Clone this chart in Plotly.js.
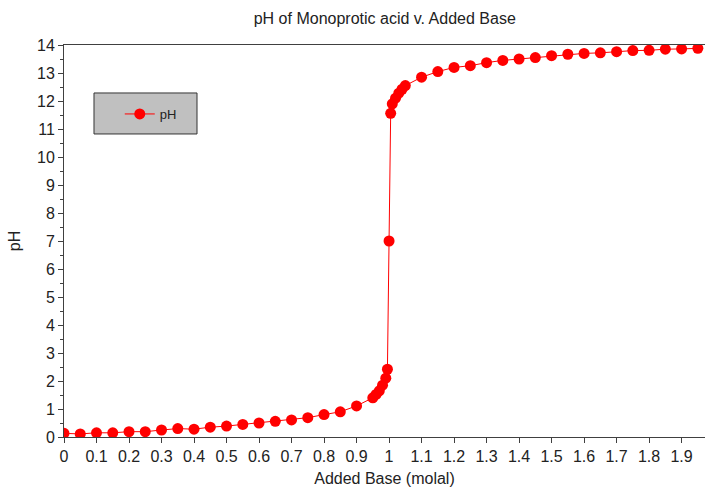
<!DOCTYPE html>
<html>
<head>
<meta charset="utf-8">
<script src="https://cdn.plot.ly/plotly-3.0.1.min.js"></script>
<style>html,body{margin:0;padding:0;background:#fff;}#chart{width:706px;height:488px;}</style>
</head>
<body>
<div id="chart"></div>
<script>
var addedBase = [0, 0.05, 0.1, 0.15, 0.2, 0.25, 0.3, 0.35, 0.4, 0.45, 0.5, 0.55, 0.6, 0.65, 0.7, 0.75, 0.8, 0.85, 0.9,
  0.95, 0.96, 0.97, 0.98, 0.99, 0.995, 1.0, 1.005, 1.01, 1.02, 1.03, 1.04, 1.05,
  1.1, 1.15, 1.2, 1.25, 1.3, 1.35, 1.4, 1.45, 1.5, 1.55, 1.6, 1.65, 1.7, 1.75, 1.8, 1.85, 1.9, 1.95];
var pHValues = [0.13, 0.11, 0.15, 0.15, 0.19, 0.19, 0.25, 0.30, 0.28, 0.35, 0.39, 0.45, 0.50, 0.56, 0.61, 0.69, 0.80, 0.90, 1.11,
  1.40, 1.52, 1.65, 1.85, 2.10, 2.42, 7.0, 11.56, 11.90, 12.10, 12.28, 12.42, 12.55,
  12.85, 13.05, 13.20, 13.26, 13.37, 13.45, 13.50, 13.55, 13.62, 13.67, 13.70, 13.72, 13.76, 13.80, 13.81, 13.85, 13.86, 13.88];
var chartTitle = 'pH of Monoprotic acid v. Added Base';
var xTitle = 'Added Base (molal)';
var yTitle = 'pH';
var seriesName = 'pH';

var FONT = '"Liberation Sans Narrow", "Liberation Sans", Arial, sans-serif';
var AX = '#404040';

var trace = {
  x: addedBase, y: pHValues, name: seriesName, type: 'scatter', mode: 'lines+markers',
  line: {color: '#ff0000', width: 1},
  marker: {color: '#ff0000', size: 11, symbol: 'circle'}
};

var layout = {
  width: 706, height: 488,
  margin: {l: 64, r: 1, t: 45, b: 51, pad: 0},
  paper_bgcolor: '#ffffff', plot_bgcolor: '#ffffff',
  font: {family: FONT, size: 16, color: '#222222'},
  title: {text: chartTitle, x: 0.545, xanchor: 'center', y: 0.962, yanchor: 'middle',
          font: {family: FONT, size: 16, color: '#222222'}},
  showlegend: true,
  legend: {x: 0.087, xanchor: 'left', y: 0.824, yanchor: 'middle', bgcolor: 'rgba(0,0,0,0)',
           borderwidth: 0, font: {family: FONT, size: 13, color: '#222222'}},
  shapes: [{type: 'rect', xref: 'paper', yref: 'paper', x0: 0.0468, x1: 0.2075, y0: 0.773, y1: 0.8776,
            fillcolor: '#c0c0c0', line: {color: '#333333', width: 1}, layer: 'below'}],
  xaxis: {
    range: [0, 1.972], dtick: 0.1, tick0: 0, showgrid: false, zeroline: false,
    showline: true, linecolor: AX, linewidth: 1, mirror: true,
    ticks: 'outside', ticklen: 5, tickcolor: AX, tickwidth: 1,
    tickfont: {family: FONT, size: 16, color: '#222222'},
    title: {text: xTitle, standoff: 8, font: {family: FONT, size: 16, color: '#222222'}}
  },
  yaxis: {
    range: [0, 14], dtick: 1, tick0: 0, showgrid: false, zeroline: false,
    showline: true, linecolor: AX, linewidth: 1, mirror: false,
    ticks: 'outside', ticklen: 5, tickcolor: AX, tickwidth: 1,
    minor: {dtick: 0.5, ticks: 'outside', ticklen: 3, tickcolor: AX, showgrid: false},
    tickfont: {family: FONT, size: 16, color: '#222222'},
    title: {text: yTitle, standoff: 12, font: {family: FONT, size: 16, color: '#222222'}}
  }
};

Plotly.newPlot('chart', [trace], layout, {displayModeBar: false, staticPlot: true});
</script>
</body>
</html>
